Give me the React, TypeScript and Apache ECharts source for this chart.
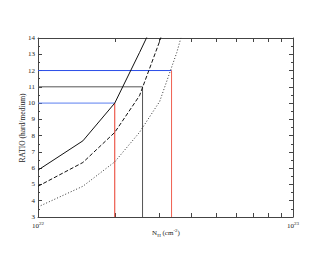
import React, { useEffect, useRef } from "react";
import * as echarts from "echarts";

const nhGrid = [1.0e22, 1.5e22, 2.0e22, 2.5e22, 3.0e22, 3.5e22, 4.0e22];
const ratioSolid = [5.88, 7.68, 10.0, 13.1, 15.7, null, null];
const ratioDashed = [4.89, 6.35, 8.2, 10.45, 13.8, 17.2, null];
const ratioDotted = [3.62, 4.89, 6.39, 8.2, 10.1, 13.1, 16.3];

const xTickValues = [1e22, 2e22, 3e22, 4e22, 5e22, 6e22, 7e22, 8e22, 9e22];
const xLabelValues = [1e22, 9.99999e22];

const refLow = { nh: 2.0e22, ratio: 10 };
const refMid = { nh: 2.57e22, ratio: 11 };
const refHigh = { nh: 3.34e22, ratio: 12 };
const xMin = 1e22;
const yMin = 3;

const yTitle = "RATIO (hard/medium)";
const xTitle = "{a|N}{s|H}{a| (cm}{b|-2}{a|)}";

const FONT = "Liberation Serif";
const TXT = "#1a1a1a";

function pairs(ys: (number | null)[]) {
  const out: [number, number][] = [];
  ys.forEach((y, i) => {
    if (y !== null) out.push([nhGrid[i], y]);
  });
  return out;
}

export default function App() {
  const ref = useRef<HTMLDivElement>(null);
  useEffect(() => {
    if (!ref.current) return;
    const chart = echarts.init(ref.current, null, { renderer: "svg" });
    const axisLine = { show: true, lineStyle: { color: "#444", width: 1 } };
    const labelRich = {
      a: { fontFamily: FONT, fontSize: 7, color: TXT },
      b: { fontFamily: FONT, fontSize: 5, color: TXT, padding: [0, 0, 5, 0] },
    };
    const line = (data: [number, number][], color: string, type: any, width = 1) => ({
      type: "line",
      data,
      symbol: "none",
      clip: true,
      lineStyle: { color, width, type },
      silent: true,
    });
    chart.setOption({
      animation: false,
      grid: { left: 38, right: 37, top: 38, bottom: 38, containLabel: false },
      graphic: [
        {
          type: "text",
          x: 22,
          y: 128,
          rotation: Math.PI / 2,
          style: {
            text: yTitle,
            fontFamily: FONT,
            fontSize: 7.5,
            fill: TXT,
            align: "center",
            verticalAlign: "middle",
          },
        },
        {
          type: "text",
          x: 166,
          y: 233,
          style: {
            text: xTitle,
            align: "center",
            verticalAlign: "middle",
            rich: {
              a: { fontFamily: FONT, fontSize: 7, fill: TXT, color: TXT },
              s: { fontFamily: FONT, fontSize: 5, fill: TXT, color: TXT, padding: [4, 0, 0, 0] },
              b: { fontFamily: FONT, fontSize: 5, fill: TXT, color: TXT, padding: [0, 0, 5, 0] },
            },
          },
        },
      ],
      xAxis: [
        {
          type: "log",
          logBase: 10,
          min: 1e22,
          max: 1e23,
          position: "bottom",
          axisLine,
          splitLine: { show: false },
          axisTick: {
            show: true,
            inside: true,
            length: 4,
            lineStyle: { color: "#444" },
            customValues: xTickValues,
          },
          axisLabel: {
            show: true,
            margin: 4,
            showMinLabel: true,
            showMaxLabel: true,
            hideOverlap: false,
            customValues: xLabelValues,
            formatter: (v: number) => `{a|10}{b|${Math.round(Math.log10(v))}}`,
            rich: labelRich,
          },
        },
        {
          type: "log",
          logBase: 10,
          min: 1e22,
          max: 1e23,
          position: "top",
          axisLine,
          splitLine: { show: false },
          axisTick: {
            show: true,
            inside: true,
            length: 4,
            lineStyle: { color: "#444" },
            customValues: xTickValues,
          },
          axisLabel: { show: false },
        },
      ],
      yAxis: [
        {
          type: "value",
          min: 3,
          max: 14,
          interval: 1,
          position: "left",
          axisLine,
          splitLine: { show: false },
          axisTick: { show: true, inside: true, length: 4, lineStyle: { color: "#444" } },
          minorTick: { show: true, splitNumber: 2, length: 2, lineStyle: { color: "#444" } },
          axisLabel: { fontFamily: FONT, fontSize: 7, color: TXT, margin: 3 },
        },
        {
          type: "value",
          min: 3,
          max: 14,
          interval: 1,
          position: "right",
          axisLine,
          splitLine: { show: false },
          axisTick: { show: true, inside: true, length: 4, lineStyle: { color: "#444" } },
          minorTick: { show: true, splitNumber: 2, length: 2, lineStyle: { color: "#444" } },
          axisLabel: { show: false },
        },
      ],
      series: [
        line([[xMin, refHigh.ratio], [refHigh.nh, refHigh.ratio]], "#2a4de8", "solid"),
        line([[xMin, refMid.ratio], [refMid.nh, refMid.ratio]], "#555555", "solid"),
        line([[xMin, refLow.ratio], [refLow.nh, refLow.ratio]], "#5b7ff0", "solid"),
        line([[refLow.nh, yMin], [refLow.nh, refLow.ratio]], "#e83a2a", "solid"),
        line([[refMid.nh, yMin], [refMid.nh, refMid.ratio]], "#555555", "solid"),
        line([[refHigh.nh, yMin], [refHigh.nh, refHigh.ratio]], "#f06050", "solid"),
        line(pairs(ratioSolid), "#111", "solid"),
        line(pairs(ratioDashed), "#111", [4, 2]),
        line(pairs(ratioDotted), "#333", [1, 2]),
      ],
    });
    return () => chart.dispose();
  }, []);
  return <div ref={ref} style={{ width: 330, height: 255, margin: -8 }} />;
}
